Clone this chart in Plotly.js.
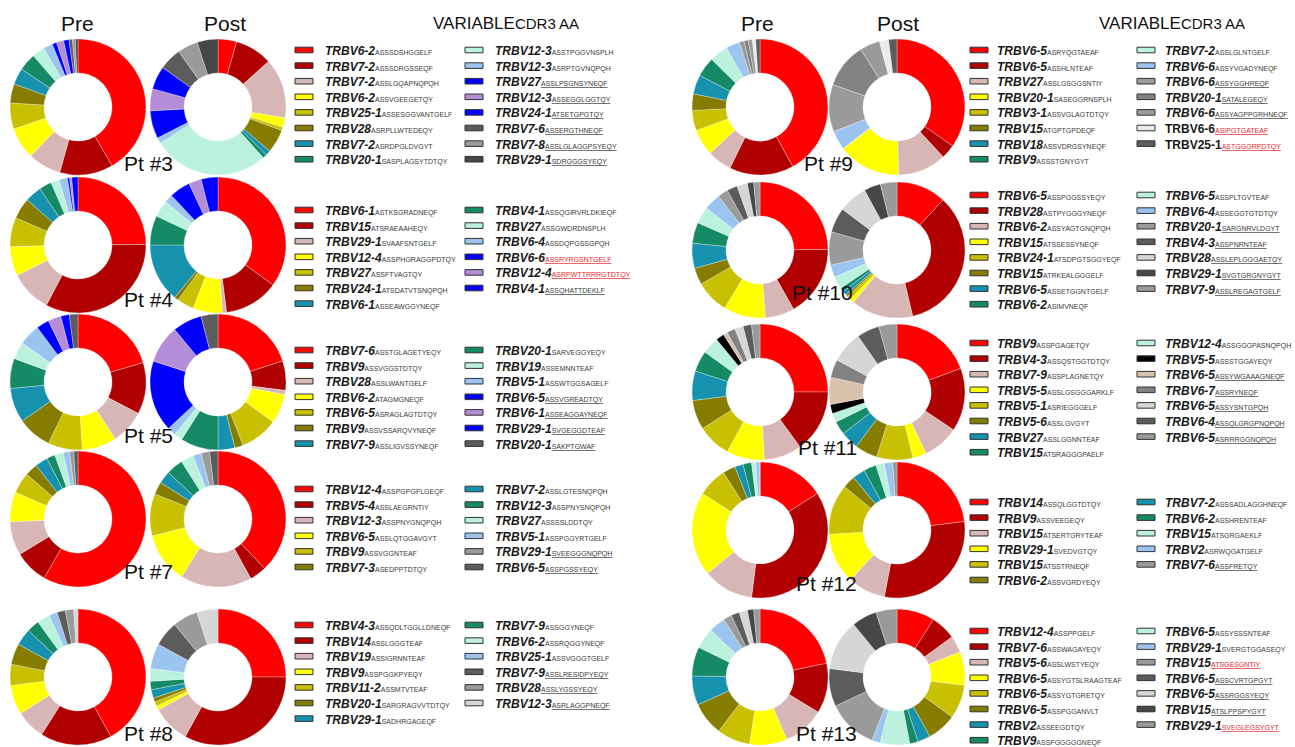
<!DOCTYPE html>
<html>
<head>
<meta charset="utf-8">
<script src="https://cdn.plot.ly/plotly-3.0.1.min.js"></script>
<style>html,body{margin:0;padding:0;background:#fff;}#chart{width:1295px;height:747px;}</style>
</head>
<body>
<div id="chart"></div>
<script>
// ---------------- DATA ----------------
const pt3Genes = ['TRBV6-2','TRBV7-2','TRBV7-2','TRBV6-2','TRBV25-1','TRBV28','TRBV7-2','TRBV20-1','TRBV12-3','TRBV12-3','TRBV27','TRBV12-3','TRBV24-1','TRBV7-6','TRBV7-8','TRBV29-1'];
const pt3Cdr3 = ['ASSSDSHGGELF','ASSSDRGSSEQF','ASSLGQAPNQPQH','ASSVGEEGETQY','ASSESGGVANTGELF','ASRPLLWTEDEQY','ASRDPGLDVGYT','SASPLAGSYTDTQY','ASSTPGGVNSPLH','ASRPTGVNQPQH','ASSLPSGNSYNEQF','ASSEGGLGGTQY','ATSETGPGTQY','ASSERGTHNEQF','ASSLGLAGGPSYEQY','SDRGGGSYEQY'];
const pt3Pre  = [41.7,12.7,7.9,7.5,6.2,4.6,3.9,4.2,3.0,2.2,1.1,1.7,1.3,0.8,0.7,0.6];
const pt3Post = [4.5,9.0,14.4,2.3,0.8,5.7,1.2,1.0,28.0,1.4,6.7,5.3,5.6,5.4,4.9,5.0];
const pt3Mark = ['','','','','','','','','','','u','u','u','u','u','u'];

const pt4Genes = ['TRBV6-1','TRBV15','TRBV29-1','TRBV12-4','TRBV27','TRBV24-1','TRBV6-1','TRBV4-1','TRBV27','TRBV6-4','TRBV6-6','TRBV12-4','TRBV4-1'];
const pt4Cdr3 = ['ASTKSGRADNEQF','ATSRAEAAHEQY','SVAAFSNTGELF','ASSPHGRAGGPDTQY','ASSFTVAGTQY','ATSDATVTSNQPQH','ASSEAWGGYNEQF','ASSQGIRVRLDKIEQF','ASSGWDRDNSPLH','ASSDQPGSSGPQH','ASSRYRGSNTGELF','ASRPWTTRRRGTDTQY','ASSQHATTDEKLF'];
const pt4Pre  = [25,33,10,7,7,5,4,3,2,2,0.5,0.5,1.5];
const pt4Post = [35,13,1,7,4,1,14,7,4,2,5,3,4];
const pt4Mark = ['','','','','','','','','','','r','r','u'];

const pt5Genes = ['TRBV7-6','TRBV9','TRBV28','TRBV6-2','TRBV6-5','TRBV9','TRBV7-9','TRBV20-1','TRBV19','TRBV5-1','TRBV6-5','TRBV6-1','TRBV29-1','TRBV20-1'];
const pt5Cdr3 = ['ASSTGLAGETYEQY','ASSVGGSTDTQY','ASSLWANTGELF','ATAGMGNEQF','ASRAGLAGTDTQY','ASSVSSARQVYNEQF','ASSLIGVSSYNEQF','SARVEGGYEQY','ASSEMNNTEAF','ASSWTGGSAGELF','ASSVGREADTQY','ASSEAGGAYNEQF','SVGEGGDTEAF','SAKPTGWAF'];
const pt5Pre  = [20,12,8,8,8,8,8,7,4,5,3,3,2,2];
const pt5Post = [20,7,1,7,9,2,4,9,2,2,17,9,7,4];
const pt5Mark = ['','','','','','','','','','','u','u','u','u'];

const pt7Genes = ['TRBV12-4','TRBV5-4','TRBV12-3','TRBV6-5','TRBV9','TRBV7-3','TRBV7-2','TRBV12-3','TRBV27','TRBV5-1','TRBV29-1','TRBV6-5'];
const pt7Cdr3 = ['ASSPGPGFLGEQF','ASSLAEGRNTIY','ASSPNYGNQPQH','ASSLQTGGAVGYT','ASSVGGNTEAF','ASEDPPTDTQY','ASSLGTESNQPQH','ASSPNYSNQPQH','ASSSSLDDTQY','ASSPGGYRTGELF','SVEEGGGNQPQH','ASSPGSSYEQY'];
const pt7Pre  = [58,8,8,7,5,3,3,2,2,1.5,1,1];
const pt7Post = [38,4,17,12,10,3,3,4,3,2,2,2];
const pt7Mark = ['','','','','','','','','','','u','u'];

const pt8Genes = ['TRBV4-3','TRBV14','TRBV19','TRBV9','TRBV11-2','TRBV20-1','TRBV29-1','TRBV7-9','TRBV6-2','TRBV25-1','TRBV7-9','TRBV28','TRBV12-3'];
const pt8Cdr3 = ['ASSQDLTGGLLDNEQF','ASSLGGGTEAF','ASSIGRNNTEAF','ASSPGGKPYEQY','ASSMTVTEAF','SARGRAGVVTDTQY','SADHRGAGEQF','ASSGGYNEQF','ASSRQGGYNEQF','ASSVGGGTGELF','ASSLRESIDPYEQY','ASSLYGSSYEQY','ASRLAGGPNEQF'];
const pt8Pre  = [42,17,7,7,5,5,4,3,3,2,2,2,1];
const pt8Post = [25,33,9,1,1,1,2,2,3,6,6,6,5];
const pt8Mark = ['','','','','','','','','','','u','u','u'];

const pt9Genes = ['TRBV6-5','TRBV6-5','TRBV27','TRBV20-1','TRBV3-1','TRBV15','TRBV18','TRBV9','TRBV7-2','TRBV6-6','TRBV6-6','TRBV20-1','TRBV6-6','TRBV6-6','TRBV25-1'];
const pt9Cdr3 = ['ASRYQGTAEAF','ASSHLNTEAF','ASSLGSGGSNTIY','SASEGGRNSPLH','ASSVGLAGTDTQY','ATGPTGPDEQF','ASSVDRGSYNEQF','ASSSTGNYGYT','ASSLGLNTGELF','ASSYVGADYNEQF','ASSYGGHREQF','SATALEGEQY','ASSYAGPPGRHNEQF','ASIPGTGATEAF','ASTGGGRPDTQY'];
const pt9Pre  = [42,15.3,5.8,6.3,4.8,3.9,4.6,4.7,4.4,3.3,1.1,1,1,0.8,1];
const pt9Post = [35,3.4,11.6,15,0,0,0,0,0,4.6,11.3,10.8,4.8,2.2,2];
const pt9Mark = ['','','','','','','','','','','u','u','u','R','R'];

const pt10Genes = ['TRBV6-5','TRBV28','TRBV6-2','TRBV15','TRBV24-1','TRBV15','TRBV6-5','TRBV6-2','TRBV6-5','TRBV6-4','TRBV20-1','TRBV4-3','TRBV28','TRBV29-1','TRBV7-9'];
const pt10Cdr3 = ['ASSPGGSSYEQY','ASTPYGGGYNEQF','ASSYAGTGNQPQH','ATSSESSYNEQF','ATSDPGTSGGYEQF','ATRKEALGGGELF','ASSETGGNTGELF','ASIMVNEQF','ASSPLTGVTEAF','ASSEGGTGTDTQY','SARGNRVLDGYT','ASSPNRNTEAF','ASSLEPLGGGAETQY','SVGTGRGNYGYT','ASSLREGAGTGELF'];
const pt10Pre  = [25,17,7,10,8,4,6,5,4,4,2.5,2.5,2.5,1.5,1.5];
const pt10Post = [12,35,15,1,1,0.5,1,1,3,3,8,6,7,4,4];
const pt10Mark = ['','','','','','','','','','','u','u','u','u','u'];

const pt11Genes = ['TRBV9','TRBV4-3','TRBV7-9','TRBV5-5','TRBV5-1','TRBV5-6','TRBV27','TRBV15','TRBV12-4','TRBV5-5','TRBV6-5','TRBV6-7','TRBV6-5','TRBV6-4','TRBV6-5'];
const pt11Cdr3 = ['ASSPGAGETQY','ASSQSTGGTDTQY','ASSPLAGNETQY','ASSLGSGGGARKLF','ASRIEGGGELF','ASSLGVGYT','ASSLGGNNTEAF','ATSRAGGGPAELF','ASSGGGPASNQPQH','ASSSTGGAYEQY','ASSYWGAAAGNEQF','ASSRYNEQF','ASSYSNTGPQH','ASSQLGRGPNQPQH','ASRRRGGNQPQH'];
const pt11Pre  = [25,15,9,9,8,7,7,5,4,2,1,2,2,2,2];
const pt11Post = [18,14,8,3,8,5,4,3,2,2,6,4,7,5,4];
const pt11Mark = ['','','','','','','','','','','u','u','u','u','u'];

const pt12Genes = ['TRBV14','TRBV9','TRBV15','TRBV29-1','TRBV15','TRBV6-2','TRBV7-2','TRBV6-2','TRBV15','TRBV2','TRBV7-6'];
const pt12Cdr3 = ['ASSQLGGTDTQY','ASSVEEGEQY','ATSERTGRYTEAF','SVEDVGTQY','ATSSTRNEQF','ASSVGRDYEQY','ASSSADLAGGHNEQF','ASSHRENTEAF','ATSGRGAEKLF','ASRWQGATGELF','ASSFRETQY'];
const pt12Pre  = [16,36,12,20,7,3,2,2,1,1,0];
const pt12Post = [23,30,9,12,12,3,3,3,2,2,1];
const pt12Mark = ['','','','','','','','','','','u'];

const pt13Genes = ['TRBV12-4','TRBV7-6','TRBV5-6','TRBV6-5','TRBV6-5','TRBV6-5','TRBV2','TRBV9','TRBV6-5','TRBV29-1','TRBV15','TRBV6-5','TRBV6-5','TRBV15','TRBV29-1'];
const pt13Cdr3 = ['ASSPPGELF','ASSWAGAYEQY','ASSLWSTYEQY','ASSYGTSLRAAGTEAF','ASSYGTGRETQY','ASSPGGANVLT','ASSEEGDTQY','ASSFGGGGGNEQF','ASSYSSSNTEAF','SVERGTGGASEQY','ATSGESGNTIY','ASSCVRTGPGYT','ASSRGGSYEQY','ATSLPPSPYGYT','SVEGLEGSYGYT'];
const pt13Pre  = [22,12,10,9,8,8,7,7,5,4,2,2,2,1.5,1.5];
const pt13Post = [9,6,4,8,8,7,3,2,7,2,12,9,12,6,5];
const pt13Mark = ['','','','','','','','','','','r','u','u','u','r'];

const patientNames = ['Pt #3','Pt #4','Pt #5','Pt #7','Pt #8','Pt #9','Pt #10','Pt #11','Pt #12','Pt #13'];
const timepoints = ['Pre','Post'];

// ---------------- STYLE ----------------
const C = {red:'#ff0000', dkred:'#b00000', pink:'#d8b6b6', yellow:'#ffff00', olivey:'#c8c000', olive:'#857c00',
  teal:'#1792ae', green:'#168a66', ltcyan:'#baf2de', ltblue:'#9cc4f0', blue:'#0000ff', purple:'#b48cd8',
  grey:'#9a9a9a', dkgrey:'#5c5c5c', dkgrey2:'#474747', ltgrey:'#d6d6d6', black:'#000000', tan:'#d8c2ac', white:'#ececec', mdgrey:'#828282'};
const base8 = ['red','dkred','pink','yellow','olivey','olive','teal','green'];

const W = 1295, H = 747;
const sides = [
  {pre:78, post:218, s1:295, t1:323, s2:465, t2:493, head:506, preLab:77, postLab:225},
  {pre:760, post:897, s1:970, t1:995, s2:1137, t2:1163, head:1172, preLab:757, postLab:898}
];
const patients = [
  {g:pt3Genes,c:pt3Cdr3,pre:pt3Pre,post:pt3Post,m:pt3Mark,split:8,side:0,cy:107,leg:50,lx:148,ly:163,
   col:base8.concat(['ltcyan','ltblue','blue','purple','blue','dkgrey','grey','dkgrey2'])},
  {g:pt4Genes,c:pt4Cdr3,pre:pt4Pre,post:pt4Post,m:pt4Mark,split:7,side:0,cy:245,leg:210,lx:148,ly:299,
   col:base8.slice(0,7).concat(['green','ltcyan','ltblue','blue','purple','blue'])},
  {g:pt5Genes,c:pt5Cdr3,pre:pt5Pre,post:pt5Post,m:pt5Mark,split:7,side:0,cy:382,leg:350,lx:148,ly:435,
   col:base8.slice(0,7).concat(['green','ltcyan','ltblue','blue','purple','blue','dkgrey'])},
  {g:pt7Genes,c:pt7Cdr3,pre:pt7Pre,post:pt7Post,m:pt7Mark,split:6,side:0,cy:519,leg:489,lx:148,ly:571,
   col:base8.slice(0,6).concat(['teal','green','ltcyan','ltblue','grey','dkgrey'])},
  {g:pt8Genes,c:pt8Cdr3,pre:pt8Pre,post:pt8Post,m:pt8Mark,split:7,side:0,cy:677,leg:625,lx:148,ly:733,
   col:base8.slice(0,7).concat(['green','ltcyan','ltblue','dkgrey','grey','ltgrey'])},
  {g:pt9Genes,c:pt9Cdr3,pre:pt9Pre,post:pt9Post,m:pt9Mark,split:8,side:1,cy:107,leg:50,lx:828,ly:163,
   col:base8.concat(['ltcyan','ltblue','grey','mdgrey','grey','white','dkgrey'])},
  {g:pt10Genes,c:pt10Cdr3,pre:pt10Pre,post:pt10Post,m:pt10Mark,split:8,side:1,cy:250,leg:195,lx:822,ly:292,
   col:base8.concat(['ltcyan','ltblue','grey','dkgrey','ltgrey','dkgrey2','grey'])},
  {g:pt11Genes,c:pt11Cdr3,pre:pt11Pre,post:pt11Post,m:pt11Mark,split:8,side:1,cy:392,leg:343,lx:827,ly:447,
   col:base8.concat(['ltcyan','black','tan','mdgrey','ltgrey','dkgrey','grey'])},
  {g:pt12Genes,c:pt12Cdr3,pre:pt12Pre,post:pt12Post,m:pt12Mark,split:6,side:1,cy:530,leg:502,lx:826,ly:583,
   col:base8.slice(0,6).concat(['teal','green','ltcyan','ltblue','grey'])},
  {g:pt13Genes,c:pt13Cdr3,pre:pt13Pre,post:pt13Post,m:pt13Mark,split:8,side:1,cy:677,leg:631,lx:826,ly:733,
   col:base8.concat(['ltcyan','ltblue','grey','dkgrey','ltgrey','dkgrey2','grey'])}
];

const R = 68, HOLE = 0.5, ROW = 15.6;
function dom(cx, cy, r){ return {x:[(cx-r)/W,(cx+r)/W], y:[1-(cy+r)/H, 1-(cy-r)/H]}; }
function px(x){ return x/W; }
function py(y){ return 1-y/H; }

const traces = [];
const shapes = [];
const annotations = [];
const FONT = 'Liberation Sans, Arial, Helvetica, sans-serif';

patients.forEach((p, k) => {
  const s = sides[p.side];
  const labels = p.g.map((g,i)=> g+' '+p.c[i]);
  const colors = p.col.map(key => C[key]);
  [p.pre, p.post].forEach((vals, t) => {
    traces.push({
      type:'pie', values: vals, labels: labels, sort:false, direction:'clockwise', rotation:0,
      hole: HOLE, textinfo:'none', showlegend:false,
      name: patientNames[k]+' '+timepoints[t],
      marker:{colors: colors, line:{color:'rgba(255,255,255,0.6)', width:0.5}},
      domain: dom(t===0 ? s.pre : s.post, p.cy, R),
      hovertemplate: '%{label}<br>%{percent}<extra>'+patientNames[k]+' '+timepoints[t]+'</extra>'
    });
  });
  annotations.push({x:px(p.lx), y:py(p.ly), xref:'paper', yref:'paper', text:patientNames[k], showarrow:false,
    xanchor:'center', yanchor:'middle', font:{family:FONT, size:21, color:'#111'}});
  p.g.forEach((g, i) => {
    const inFirst = i < p.split;
    const row = inFirst ? i : i - p.split;
    const y = p.leg + row*ROW;
    const sx = inFirst ? s.s1 : s.s2;
    const tx = inFirst ? s.t1 : s.t2;
    shapes.push({type:'rect', xref:'paper', yref:'paper', x0:px(sx), x1:px(sx+18), y0:py(y+2.8), y1:py(y-2.8),
      fillcolor: colors[i], line:{color:'#333', width:1}});
    const mk = p.m[i];
    let st = 'font-size:7px;font-weight:normal;font-style:normal;';
    if (mk==='u') st += 'text-decoration:underline;';
    if (mk==='r' || mk==='R') st += 'text-decoration:underline;color:#e8262a;';
    const gene = mk==='R' ? '<b>'+g+'</b>' : '<b><i>'+g+'</i></b>';
    annotations.push({x:px(tx), y:py(y+1), xref:'paper', yref:'paper', showarrow:false, xanchor:'left', yanchor:'middle',
      text: '<span style="color:#1a1a1a">'+gene+'</span><span style="'+st+'">'+p.c[i]+'</span>',
      font:{family:FONT, size:12, color:'#3a3a3a'}});
  });
});

sides.forEach(s => {
  annotations.push({x:px(s.preLab), y:py(23), xref:'paper', yref:'paper', text:timepoints[0], showarrow:false,
    xanchor:'center', yanchor:'middle', font:{family:FONT, size:21, color:'#111'}});
  annotations.push({x:px(s.postLab), y:py(23), xref:'paper', yref:'paper', text:timepoints[1], showarrow:false,
    xanchor:'center', yanchor:'middle', font:{family:FONT, size:21, color:'#111'}});
  annotations.push({x:px(s.head), y:py(23), xref:'paper', yref:'paper', text:'VARIABLE<span style="font-size:15px">CDR3 AA</span>', showarrow:false,
    xanchor:'center', yanchor:'middle', font:{family:FONT, size:17, color:'#111'}});
});

Plotly.newPlot('chart', traces, {
  width:W, height:H, margin:{l:0,r:0,t:0,b:0}, paper_bgcolor:'#fff', plot_bgcolor:'#fff',
  showlegend:false, shapes:shapes, annotations:annotations
}, {displayModeBar:false});
</script>
</body>
</html>
